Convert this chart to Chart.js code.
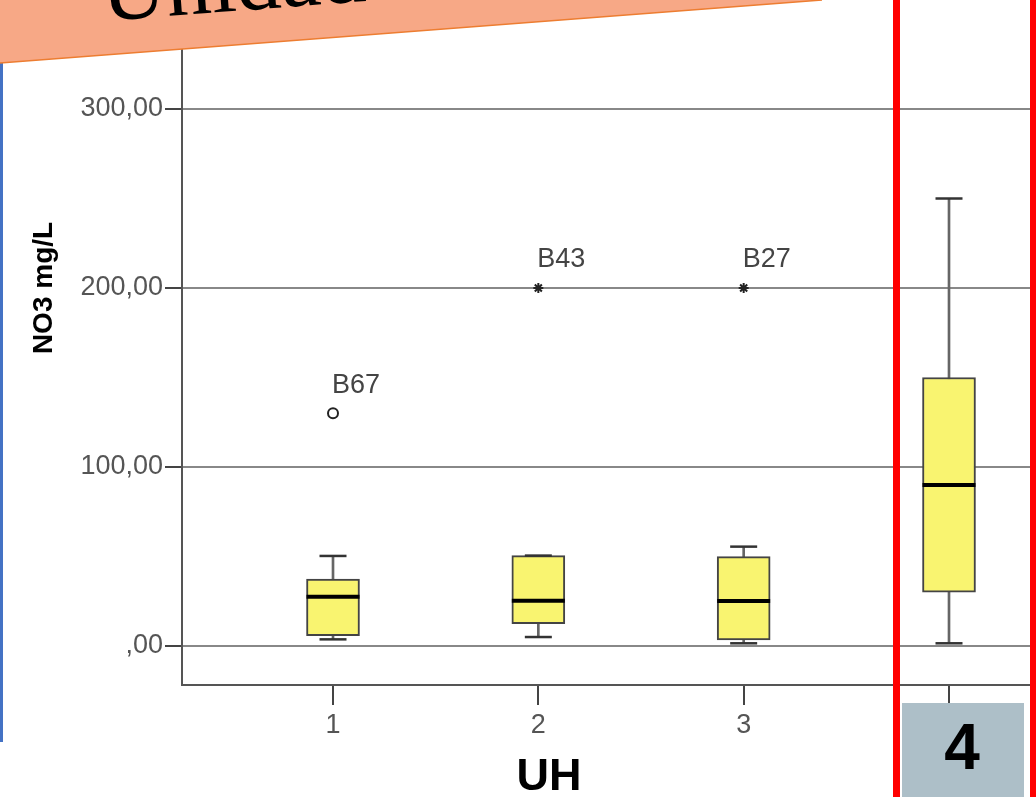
<!DOCTYPE html>
<html lang="es">
<head>
<meta charset="utf-8">
<title>NO3 mg/L por UH</title>
<script src="https://cdn.jsdelivr.net/npm/chart.js@4.4.1/dist/chart.umd.min.js"></script>
<style>
  html, body { margin: 0; padding: 0; background: #fff; overflow: hidden; }
  #grafica { display: block; }
</style>
</head>
<body>
<canvas id="grafica" width="1036" height="797"></canvas>
<script>
/* ===== Datos ===== */
const categorias = [1, 2, 3, 4];
const etiquetasX = ['1', '2', '3', '4'];
const bigoteInf = [3.7, 5, 1.5, 1.5];
const cuartil1 = [5.8, 12.5, 3.4, 30];
const mediana = [27.5, 25.3, 25.1, 90];
const cuartil3 = [37.4, 50.5, 49.9, 150];
const bigoteSup = [50.3, 50.5, 55.5, 250];

// atípicos (círculo) y extremos (estrella)
const atipicoCat = [1];
const atipicoVal = [130];
const atipicoEtiq = ['B67'];
const extremoCat = [2, 3];
const extremoVal = [200, 200];
const extremoEtiq = ['B43', 'B27'];

const ticksY = [0, 100, 200, 300];
const etiquetasY = [',00', '100,00', '200,00', '300,00'];

document.addEventListener('DOMContentLoaded', function () {
  const canvas = document.getElementById('grafica');
  if (!canvas || typeof Chart === 'undefined') {
    console.warn('Chart.js no está cargado o falta #grafica');
    return;
  }
  const ctx = canvas.getContext('2d');
  const fuente = '"Liberation Sans", Arial, sans-serif';

  // Etiquetas de los casos atípicos
  const etiquetasCasos = {
    id: 'etiquetasCasos',
    afterDatasetsDraw(chart) {
      const c = chart.ctx;
      c.save();
      c.font = '27px ' + fuente;
      c.fillStyle = '#444';
      c.textAlign = 'left';
      c.textBaseline = 'middle';
      chart.data.datasets.forEach((ds, i) => {
        if (!ds.etiquetas) return;
        chart.getDatasetMeta(i).data.forEach((pt, j) => {
          c.fillText(ds.etiquetas[j], pt.x - 1, pt.y - 28);
        });
      });
      c.restore();
    }
  };

  // Títulos de ejes y adornos de la diapositiva
  const adornos = {
    id: 'adornos',
    afterDraw(chart) {
      const c = chart.ctx;
      c.save();
      c.fillStyle = '#000';
      c.textAlign = 'center';
      c.textBaseline = 'middle';
      c.font = 'bold 28px ' + fuente;
      c.save();
      c.translate(44, 288);
      c.rotate(-Math.PI / 2);
      c.fillText('NO3 mg/L', 0, 0);
      c.restore();
      c.font = 'bold 45px ' + fuente;
      c.fillText('UH', 549, 778);

      // línea azul del borde
      c.fillStyle = '#4472C4';
      c.fillRect(0, 60, 3, 682);

      // marco rojo
      c.fillStyle = '#FF0000';
      c.fillRect(893, 0, 7, 797);
      c.fillRect(1030, 0, 6, 797);

      // recuadro gris con el número
      c.fillStyle = '#ADBFC8';
      c.fillRect(902, 703, 122, 94);
      c.fillStyle = '#000';
      c.font = 'bold 64px ' + fuente;
      c.fillText('4', 962, 751);

      // banda naranja del título
      c.beginPath();
      c.moveTo(0, 0);
      c.lineTo(822, 0);
      c.lineTo(0, 63);
      c.closePath();
      c.fillStyle = '#F7A886';
      c.fill();
      c.beginPath();
      c.moveTo(822, 0);
      c.lineTo(0, 63);
      c.strokeStyle = '#ED7D31';
      c.lineWidth = 1.5;
      c.stroke();
      c.save();
      c.translate(103, 21);
      c.rotate(-Math.atan(63 / 822));
      c.font = '90px "Liberation Serif", "Times New Roman", serif';
      c.textAlign = 'left';
      c.textBaseline = 'alphabetic';
      c.fillStyle = '#000';
      c.fillText('Unidades Hidrogeológicas', 0, 0);
      c.restore();
      c.restore();
    }
  };

  new Chart(ctx, {
    type: 'bar',
    data: {
      datasets: [
        {
          type: 'scatter',
          data: categorias.map((x, i) => ({ x: x, y: mediana[i] })),
          pointStyle: 'line', radius: 26.5, borderWidth: 4,
          borderColor: '#000'
        },
        {
          type: 'scatter',
          data: categorias.map((x, i) => ({ x: x, y: bigoteInf[i] }))
            .concat(categorias.map((x, i) => ({ x: x, y: bigoteSup[i] }))),
          pointStyle: 'line', radius: 13.5, borderWidth: 2.5,
          borderColor: '#333'
        },
        {
          type: 'scatter',
          data: atipicoCat.map((x, i) => ({ x: x, y: atipicoVal[i] })),
          etiquetas: atipicoEtiq,
          pointStyle: 'circle', radius: 5, borderWidth: 2,
          borderColor: '#222', backgroundColor: '#fff'
        },
        {
          type: 'scatter',
          data: extremoCat.map((x, i) => ({ x: x, y: extremoVal[i] })),
          etiquetas: extremoEtiq,
          pointStyle: 'star', radius: 5, borderWidth: 2,
          borderColor: '#222', backgroundColor: '#222'
        },
        {
          // cajas (Q1 a Q3)
          data: categorias.map((x, i) => ({ x: x, y: [cuartil1[i], cuartil3[i]] })),
          backgroundColor: '#F9F470', borderColor: '#444', borderWidth: 2,
          borderSkipped: false, barThickness: 53, grouped: false
        },
        {
          // bigotes
          data: categorias.map((x, i) => ({ x: x, y: [bigoteInf[i], bigoteSup[i]] })),
          backgroundColor: '#666', borderWidth: 0,
          barThickness: 2, grouped: false
        }
      ]
    },
    options: {
      responsive: false,
      animation: false,
      layout: { padding: 0, autoPadding: false },
      plugins: { legend: { display: false }, tooltip: { enabled: false } },
      scales: {
        x: {
          type: 'linear',
          min: 0.2646, max: 4.4237,
          offset: false,
          afterBuildTicks: s => { s.ticks = categorias.map(v => ({ value: v })); },
          afterFit: s => { s.height = 112; s.paddingLeft = 0; s.paddingRight = 0; },
          grid: { offset: false, drawOnChartArea: false, tickLength: 20, tickColor: '#444', lineWidth: 2 },
          border: { color: '#555', width: 2 },
          ticks: {
            padding: 4, color: '#555', maxRotation: 0,
            font: { family: fuente, size: 27 },
            callback: (v, i) => etiquetasX[i]
          }
        },
        y: {
          min: -21.8, max: 360.9,
          afterBuildTicks: s => { s.ticks = ticksY.map(v => ({ value: v })); },
          afterFit: s => { s.width = 182; s.paddingTop = 0; s.paddingBottom = 0; },
          grid: { color: '#888', lineWidth: 2, tickLength: 17, tickColor: '#444' },
          border: { color: '#555', width: 2 },
          ticks: {
            padding: 2, color: '#555',
            font: { family: fuente, size: 27 },
            callback: (v, i) => etiquetasY[i]
          }
        }
      }
    },
    plugins: [etiquetasCasos, adornos]
  });
});
</script>
</body>
</html>
